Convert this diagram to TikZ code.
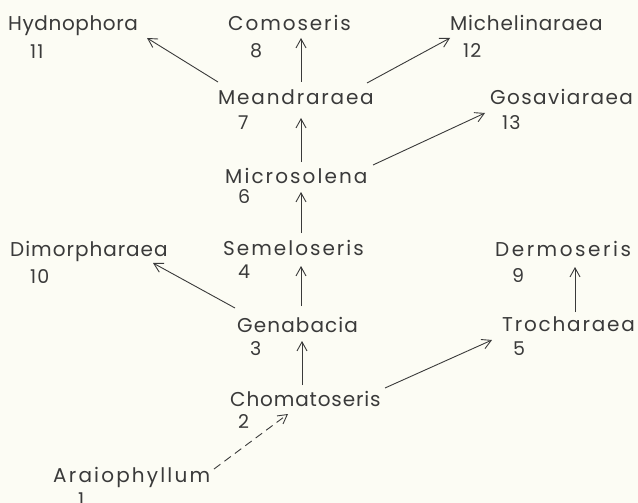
\documentclass[tikz,border=0pt]{standalone}
\usepackage{fontspec}
\setmainfont{Poppins}
\usetikzlibrary{arrows.meta}
\definecolor{ink}{HTML}{3A3A3A}
\definecolor{paper}{HTML}{FCFCF4}
\tikzset{
  lbl/.style={anchor=base west, inner sep=0pt, text=ink, font=\fontsize{20}{20}\selectfont\addfontfeatures{LetterSpace=#1}},
  lbl/.default=8,
  num/.style={anchor=base west, inner sep=0pt, text=ink, font=\fontsize{19}{19}\selectfont\addfontfeatures{LetterSpace=6}},
  arr/.style={draw=ink, line width=0.9pt, -{Straight Barb[length=9pt,width=10pt,line width=0.9pt]}},
  darr/.style={arr, dash pattern=on 8pt off 5pt}
}
\begin{document}
\begin{tikzpicture}[x=1pt,y=-1pt]
\fill[paper] (0,0) rectangle (638,503);
\useasboundingbox (0,0) rectangle (638,503);
\clip (0,0) rectangle (638,503);
% names
\node[lbl=3] (hyd) at (8,31) {Hydnophora};
\node[lbl=9.6] (com) at (228,31) {Comoseris};
\node[lbl=4.1] (mic) at (450,31) {Michelinaraea};
\node[lbl=9.1] (mea) at (218,105) {Meandraraea};
\node[lbl=6.9] (gos) at (490,105) {Gosaviaraea};
\node[lbl=10.4] (mis) at (225,183) {Microsolena};
\node[lbl=4.9] (dim) at (10,256) {Dimorpharaea};
\node[lbl=10] (sem) at (223,255) {Semeloseris};
\node[lbl=12.6] (der) at (495,256) {Dermoseris};
\node[lbl=5.5] (gen) at (237,332) {Genabacia};
\node[lbl=9] (tro) at (502,331) {Trocharaea};
\node[lbl=4.3] (cho) at (230,406) {Chomatoseris};
\node[lbl=10.9] (ara) at (53,482) {Araiophyllum};
% numbers
\node[num] (n11) at (30,59) {11};
\node[num] (n8) at (250,58) {8};
\node[num] (n12) at (463,58) {12};
\node[num] (n7) at (238,130) {7};
\node[num] (n13) at (502,130) {13};
\node[num] (n6) at (238,203) {6};
\node[num] (n10) at (30,283) {10};
\node[num] (n4) at (238,278) {4};
\node[num] (n9) at (512,282) {9};
\node[num] (n3) at (250,355) {3};
\node[num] (n5) at (513,355) {5};
\node[num] (n2) at (238,428) {2};
\node[num] (n1) at (78,506) {1};
% connectors
\draw[arr] ([shift={(0,-23)}]mea.base west) -- ([shift={(139,7)}]hyd.base west);
\draw[arr] ([shift={(83,-23)}]mea.base west) -- ([shift={(73,7)}]com.base west);
\draw[arr] ([shift={(149,-22)}]mea.base west) -- ([shift={(0,7)}]mic.base west);
\draw[arr] ([shift={(76,-21)}]mis.base west) -- ([shift={(83,13)}]mea.base west);
\draw[arr] ([shift={(148,-18)}]mis.base west) -- ([shift={(-5,8)}]gos.base west);
\draw[arr] ([shift={(78,-22)}]sem.base west) -- ([shift={(76,9)}]mis.base west);
\draw[arr] ([shift={(-2,-24)}]gen.base west) -- ([shift={(143,7)}]dim.base west);
\draw[arr] ([shift={(64,-26)}]gen.base west) -- ([shift={(78,11)}]sem.base west);
\draw[arr] ([shift={(72,-21)}]cho.base west) -- ([shift={(65,9)}]gen.base west);
\draw[arr] ([shift={(155,-18)}]cho.base west) -- ([shift={(-10,9)}]tro.base west);
\draw[arr] ([shift={(73,-19)}]tro.base west) -- ([shift={(80,11)}]der.base west);
\draw[darr] ([shift={(161,-13)}]ara.base west) -- ([shift={(58,8)}]cho.base west);
\end{tikzpicture}
\end{document}
